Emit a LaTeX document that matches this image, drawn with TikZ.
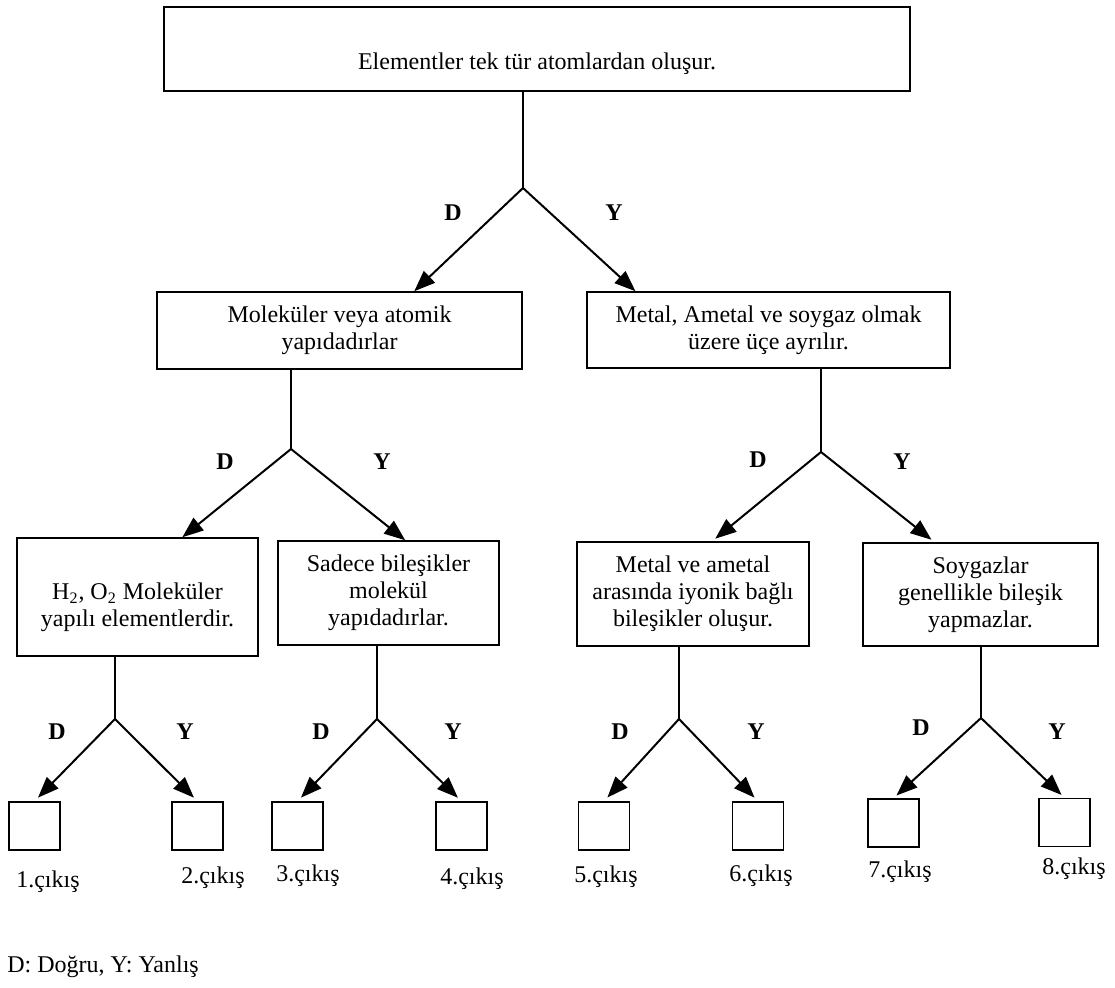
\documentclass[tikz,border=0pt]{standalone}
\usepackage{fontspec}
\setmainfont{Liberation Serif}
\usetikzlibrary{arrows.meta,calc}

% lower the contents of a box without changing its reported size
\newcommand{\lowered}[2]{\raisebox{-#1}[\height][\depth]{\begin{tabular}{@{}c@{}}#2\end{tabular}}}

\begin{document}
\begin{tikzpicture}[x=0.5pt,y=-0.5pt,
  txt/.style={font=\fontsize{12}{13.5}\selectfont},
  box/.style={txt,draw,line width=0.75pt,inner sep=0pt,align=center},
  outbox/.style={draw,line width=0.75pt,inner sep=0pt,minimum width=25.5pt,minimum height=24pt},
  tag/.style={font=\fontsize{12}{13.5}\selectfont\bfseries,inner sep=0pt},
  outlabel/.style={txt,inner sep=0pt},
  stem/.style={line width=1pt},
  branch/.style={line width=1pt,-{Triangle[length=10.5pt,width=8pt]}}]

\useasboundingbox (0,0) rectangle (1115,988);

% decision boxes
\node[box,minimum width=373pt,minimum height=42pt,text height=24pt,text depth=3pt] (top) at (537,49)
  {Elementler tek tür atomlardan oluşur.};
\node[box,minimum width=182.5pt,minimum height=38.5pt] (mol) at (339.5,330.5)
  {Moleküler veya atomik\\yapıdadırlar};
\node[box,minimum width=181.5pt,minimum height=38pt] (met) at (768.5,330)
  {Metal, Ametal ve soygaz olmak\\üzere üçe ayrılır.};
\node[box,minimum width=120.5pt,minimum height=59pt] (hyd) at (137.5,597)
  {\lowered{5.5pt}{H\textsubscript{2}, O\textsubscript{2} Moleküler\\yapılı elementlerdir.}};
\node[box,minimum width=110.5pt,minimum height=52pt] (sad) at (388.5,593)
  {Sadece bileşikler\\molekül\\yapıdadırlar.};
\node[box,minimum width=116pt,minimum height=52pt] (ion) at (693,594)
  {Metal ve ametal\\arasında iyonik bağlı\\bileşikler oluşur.};
\node[box,minimum width=117.5pt,minimum height=51.5pt] (soy) at (980.5,594.5)
  {Soygazlar\\genellikle bileşik\\yapmazlar.};

% exit boxes
\node[outbox] (o1) at (34.5,826) {};
\node[outbox] (o2) at (197.5,826) {};
\node[outbox] (o3) at (297.5,826) {};
\node[outbox] (o4) at (461.5,826) {};
\node[outbox] (o5) at (604,826) {};
\node[outbox] (o6) at (758,826) {};
\node[outbox] (o7) at (893.5,823) {};
\node[outbox] (o8) at (1064.5,822.5) {};

% exit labels
\node[outlabel] (l1) at (48,882) {1.çıkış};
\node[outlabel] (l2) at (213,878) {2.çıkış};
\node[outlabel] (l3) at (308,876) {3.çıkış};
\node[outlabel] (l4) at (472,879) {4.çıkış};
\node[outlabel] (l5) at (606,877) {5.çıkış};
\node[outlabel] (l6) at (761,876) {6.çıkış};
\node[outlabel] (l7) at (900,872) {7.çıkış};
\node[outlabel] (l8) at (1074,869) {8.çıkış};

% branching points
\coordinate (a0) at (523,188);
\coordinate (a1) at (291,449);
\coordinate (a2) at (821,452);
\coordinate (a3) at (115,719);
\coordinate (a4) at (377,719);
\coordinate (a5) at (679,719);
\coordinate (a6) at (981,718);

% stems
\draw[stem] (a0 |- top.south) -- (a0);
\draw[stem] (a1 |- mol.south) -- (a1);
\draw[stem] (a2 |- met.south) -- (a2);
\draw[stem] (a3 |- hyd.south) -- (a3);
\draw[stem] (a4 |- sad.south) -- (a4);
\draw[stem] (a5 |- ion.south) -- (a5);
\draw[stem] (a6 |- soy.south) -- (a6);

% branches
\draw[branch] (a0) -- ($(mol.north west)!0.704!(mol.north east)$);
\draw[branch] (a0) -- ($(met.north west)!0.135!(met.north east)$);
\draw[branch] (a1) -- ($(hyd.north west)!0.685!(hyd.north east)$);
\draw[branch] (a1) -- ($(sad.north west)!0.575!(sad.north east)$);
\draw[branch,shorten >=2pt] (a2) -- ($(ion.north west)!0.582!(ion.north east)$);
\draw[branch,shorten >=2pt] (a2) -- ($(soy.north west)!0.306!(soy.north east)$);
\draw[branch,shorten >=2.5pt] (a3) -- (o1.north);
\draw[branch,shorten >=2.5pt] (a3) -- (o2.north);
\draw[branch,shorten >=2.5pt] (a4) -- (o3.north);
\draw[branch,shorten >=2.5pt] (a4) -- (o4.north);
\draw[branch,shorten >=2.5pt] (a5) -- (o5.north);
\draw[branch,shorten >=2.5pt] (a5) -- (o6.north);
\draw[branch,shorten >=2pt] (a6) -- (o7.north);
\draw[branch,shorten >=2pt] (a6) -- (o8.north);

% branch tags
\node[tag] (d0) at (453,213) {D};
\node[tag] (y0) at (614,213) {Y};
\node[tag] (d1) at (225,462) {D};
\node[tag] (y1) at (382,462) {Y};
\node[tag] (d2) at (758,460) {D};
\node[tag] (y2) at (902,462) {Y};
\node[tag] (d3) at (57,732) {D};
\node[tag] (y3) at (185,732) {Y};
\node[tag] (d4) at (321,732) {D};
\node[tag] (y4) at (453,732) {Y};
\node[tag] (d5) at (620,732) {D};
\node[tag] (y5) at (756,732) {Y};
\node[tag] (d6) at (921,728) {D};
\node[tag] (y6) at (1057,732) {Y};

% key
\node[txt,anchor=west,inner sep=0pt] (key) at (7,967) {D: Doğru, Y: Yanlış};
\end{tikzpicture}
\end{document}
